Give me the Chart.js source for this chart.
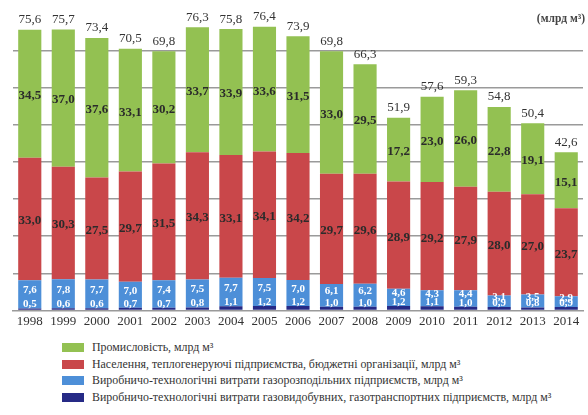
<!DOCTYPE html>
<html lang="uk">
<head>
<meta charset="utf-8">
<script src="https://cdn.jsdelivr.net/npm/chart.js@4/dist/chart.umd.min.js"></script>
<style>
  body { margin: 0; background: #fff; font-family: "Liberation Serif", serif; color: #333; }
  #wrap { position: relative; width: 588px; height: 415px; }
  #unit { position: absolute; right: 3px; top: 12px; font-size: 11.5px; font-weight: bold; color: #444; }
  #legend { position: absolute; left: 62px; top: 339px; }
  .item { display: flex; align-items: center; height: 16.8px; font-size: 11.9px; color: #333; }
  .sw { width: 22px; height: 9px; margin-right: 8px; }
</style>
</head>
<body>
<div id="wrap">
  <canvas id="gas-chart" width="588" height="332"></canvas>
  <div id="unit">(млрд м³)</div>
  <div id="legend"></div>
</div>
<script>
const years = ["1998", "1999", "2000", "2001", "2002", "2003", "2004", "2005", "2006",
  "2007", "2008", "2009", "2010", "2011", "2012", "2013", "2014"];
// промисловість
const industry = [34.5, 37.0, 37.6, 33.1, 30.2, 33.7, 33.9, 33.6, 31.5, 33.0, 29.5, 17.2, 23.0, 26.0, 22.8, 19.1, 15.1];
// населення, теплогенеруючі підприємства, бюджетні організації
const households = [33.0, 30.3, 27.5, 29.7, 31.5, 34.3, 33.1, 34.1, 34.2, 29.7, 29.6, 28.9, 29.2, 27.9, 28.0, 27.0, 23.7];
// витрати газорозподільних підприємств
const distribution = [7.6, 7.8, 7.7, 7.0, 7.4, 7.5, 7.7, 7.5, 7.0, 6.1, 6.2, 4.6, 4.3, 4.4, 3.1, 3.5, 2.9];
// витрати газовидобувних, газотранспортних підприємств
const production = [0.5, 0.6, 0.6, 0.7, 0.7, 0.8, 1.1, 1.2, 1.2, 1.0, 1.0, 1.2, 1.1, 1.0, 0.9, 0.8, 0.9];

const legendNames = [
  "Промисловість, млрд м³",
  "Населення, теплогенеруючі підприємства, бюджетні організації, млрд м³",
  "Виробничо-технологічні витрати газорозподільних підприємств, млрд м³",
  "Виробничо-технологічні витрати газовидобувних, газотранспортних підприємств, млрд м³"
];
const colors = ["#93c152", "#c9474a", "#4d8fd8", "#262a86"];

const fmt = (v) => v.toFixed(1).replace(".", ",");
const serif = '"Liberation Serif", serif';

// build the legend list (top to bottom = green, red, light blue, navy)
const legendBox = document.getElementById("legend");
legendNames.forEach((name, i) => {
  const row = document.createElement("div");
  row.className = "item";
  row.innerHTML = `<span class="sw" style="background:${colors[i]}"></span>${name}`;
  legendBox.appendChild(row);
});

// numbers inside segments and totals above bars
const valueLabels = {
  id: "valueLabels",
  afterDatasetsDraw(chart) {
    const ctx = chart.ctx;
    ctx.save();
    ctx.textAlign = "center";
    ctx.textBaseline = "middle";
    chart.data.datasets.forEach((ds, di) => {
      const meta = chart.getDatasetMeta(di);
      meta.data.forEach((bar, i) => {
        const v = ds.data[i];
        const mid = (bar.y + bar.base) / 2;
        if (ds.key === "production") {
          ctx.font = `bold 11px ${serif}`;
          ctx.fillStyle = "#fff";
          ctx.fillText(fmt(v), bar.x, bar.y - 4);
        } else if (ds.key === "distribution") {
          ctx.font = `bold 11px ${serif}`;
          ctx.fillStyle = "#fff";
          ctx.fillText(fmt(v), bar.x, mid - 4);
        } else {
          ctx.font = `bold 13px ${serif}`;
          ctx.fillStyle = "#2b2b2b";
          ctx.fillText(fmt(v), bar.x, mid + 2);
        }
      });
    });
    // totals
    const top = chart.getDatasetMeta(chart.data.datasets.length - 1);
    ctx.font = `13px ${serif}`;
    ctx.fillStyle = "#333";
    top.data.forEach((bar, i) => {
      const total = industry[i] + households[i] + distribution[i] + production[i];
      ctx.fillText(fmt(total), bar.x, bar.y - 10);
    });
    ctx.restore();
  }
};

new Chart(document.getElementById("gas-chart"), {
  type: "bar",
  data: {
    labels: years,
    datasets: [
      { key: "production", data: production, backgroundColor: colors[3] },
      { key: "distribution", data: distribution, backgroundColor: colors[2] },
      { key: "households", data: households, backgroundColor: colors[1] },
      { key: "industry", data: industry, backgroundColor: colors[0] }
    ]
  },
  options: {
    responsive: false,
    animation: false,
    layout: { padding: { left: 13, right: 5, top: 13.5, bottom: 0 } },
    datasets: { bar: { barPercentage: 0.69, categoryPercentage: 1 } },
    plugins: { legend: { display: false }, tooltip: { enabled: false } },
    scales: {
      x: {
        stacked: true,
        grid: { display: false, drawTicks: false },
        border: { color: "#9a9a9a", width: 1.5 },
        ticks: { color: "#333", padding: 3, font: { family: serif, size: 13 } }
      },
      y: {
        stacked: true,
        min: 0,
        max: 80,
        ticks: { display: false, stepSize: 10 },
        border: { display: false },
        grid: {
          drawTicks: false,
          lineWidth: 1.5,
          color: (c) => (c.tick.value === 0 || c.tick.value === 80 ? "transparent" : "#9a9a9a")
        }
      }
    }
  },
  plugins: [valueLabels]
});
</script>
</body>
</html>
